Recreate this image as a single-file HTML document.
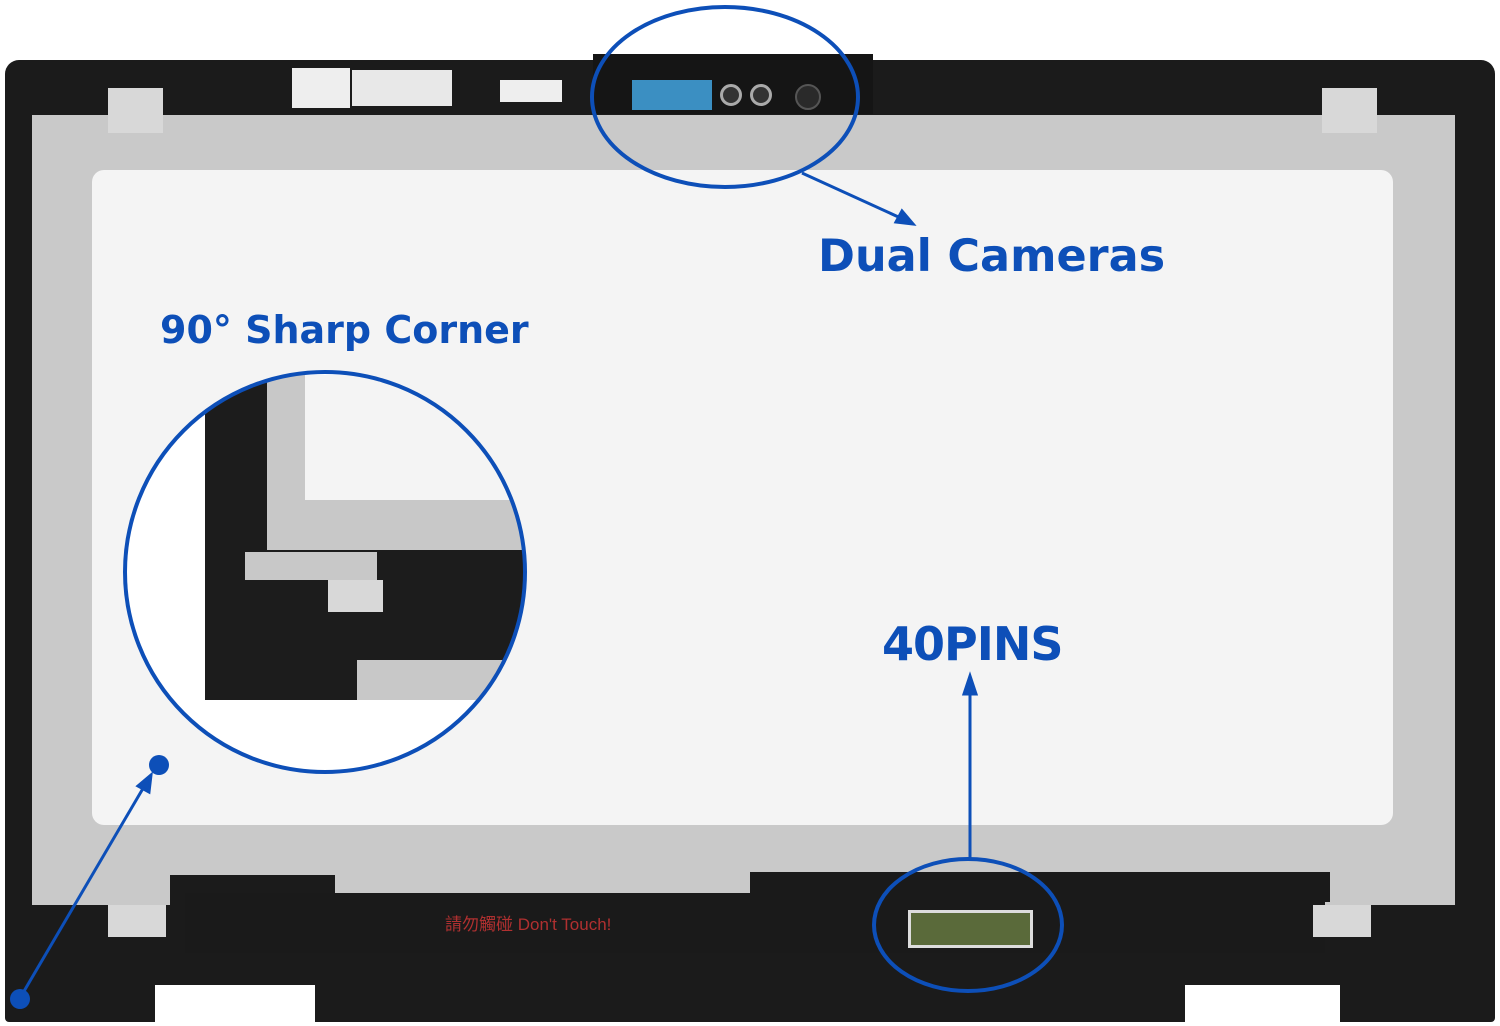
<!DOCTYPE html>
<html><head><meta charset="utf-8"><style>
*{margin:0;padding:0;box-sizing:border-box}
body{width:1500px;height:1026px;background:#fff;position:relative;overflow:hidden;font-family:"Liberation Sans","DejaVu Sans",sans-serif}
.a{position:absolute}
.lbl{position:absolute;color:#0d4fb8;font-weight:bold;font-family:"DejaVu Sans","Liberation Sans",sans-serif;white-space:nowrap}
</style></head><body>
<div class="a" style="left:5px;top:60px;width:1490px;height:962px;background:#1b1b1b;border-radius:14px 14px 4px 4px"></div>
<div class="a" style="left:593px;top:54px;width:280px;height:60px;background:#151515"></div>
<div class="a" style="left:155px;top:985px;width:160px;height:41px;background:#fff"></div>
<div class="a" style="left:1185px;top:985px;width:155px;height:41px;background:#fff"></div>
<div class="a" style="left:32px;top:115px;width:1423px;height:790px;background:#c9c9c9"></div>
<div class="a" style="left:170px;top:875px;width:165px;height:40px;background:#1b1b1b"></div>
<div class="a" style="left:185px;top:893px;width:1140px;height:60px;background:#1a1a1a"></div>
<div class="a" style="left:750px;top:872px;width:580px;height:30px;background:#1a1a1a"></div>
<div class="a" style="left:92px;top:170px;width:1301px;height:655px;background:#f4f4f4;border-radius:12px"></div>
<div class="a" style="left:108px;top:88px;width:55px;height:45px;background:#d8d8d8"></div>
<div class="a" style="left:1322px;top:88px;width:55px;height:45px;background:#d8d8d8"></div>
<div class="a" style="left:108px;top:905px;width:58px;height:32px;background:#d8d8d8"></div>
<div class="a" style="left:1313px;top:905px;width:58px;height:32px;background:#d8d8d8"></div>
<div class="a" style="left:292px;top:68px;width:58px;height:40px;background:#eee"></div>
<div class="a" style="left:352px;top:70px;width:100px;height:36px;background:#e8e8e8"></div>
<div class="a" style="left:500px;top:80px;width:62px;height:22px;background:#eee"></div>
<div class="a" style="left:632px;top:80px;width:80px;height:30px;background:#3b8fc2"></div>
<div class="a" style="left:720px;top:84px;width:22px;height:22px;border-radius:50%;background:#333;border:3px solid #aaa"></div>
<div class="a" style="left:750px;top:84px;width:22px;height:22px;border-radius:50%;background:#333;border:3px solid #aaa"></div>
<div class="a" style="left:795px;top:84px;width:26px;height:26px;border-radius:50%;background:#2a2a2a;border:2px solid #555"></div>
<div class="a" style="left:908px;top:910px;width:125px;height:38px;background:#5a6a3a;border:3px solid #ddd"></div>
<div class="a" style="left:445px;top:915px;width:260px;height:20px;color:#b03030;font-size:17px;line-height:20px">請勿觸碰 Don't Touch!</div>
<svg class="a" style="left:0;top:0" width="1500" height="1026">
<defs><clipPath id="c"><circle cx="325" cy="572" r="200"/></clipPath></defs>
<g clip-path="url(#c)">
<rect x="100" y="360" width="450" height="430" fill="#fff"/>
<rect x="205" y="375" width="320" height="325" fill="#c8c8c8"/>
<rect x="305" y="375" width="220" height="125" fill="#f4f4f4"/>
<rect x="205" y="375" width="62" height="325" fill="#1c1c1c"/>
<rect x="205" y="550" width="320" height="110" fill="#1c1c1c"/>
<rect x="205" y="655" width="152" height="45" fill="#1c1c1c"/>
<rect x="245" y="552" width="132" height="28" fill="#c8c8c8"/>
<rect x="328" y="580" width="55" height="32" fill="#d8d8d8"/>
</g>
<g fill="none" stroke="#0d4fb8" stroke-width="4">
<circle cx="325" cy="572" r="200"/>
<ellipse cx="725" cy="97" rx="133" ry="90"/>
<ellipse cx="968" cy="925" rx="94" ry="66"/>
</g>
<g stroke="#0d4fb8" stroke-width="3" fill="#0d4fb8">
<line x1="802" y1="173" x2="905" y2="220"/>
<polygon points="913,224 896,222 902,211"/>
<line x1="970" y1="858" x2="970" y2="690"/>
<polygon points="970,676 964,694 976,694"/>
<line x1="20" y1="998" x2="145" y2="785"/>
<polygon points="151,775 138,786 149,792"/>
</g>
<circle cx="20" cy="999" r="10" fill="#0d4fb8"/>
<circle cx="159" cy="765" r="10" fill="#0d4fb8"/>
</svg>
<div class="lbl" style="left:818px;top:231px;font-size:44.5px">Dual Cameras</div>
<div class="lbl" style="left:160px;top:308px;font-size:38px">90° Sharp Corner</div>
<div class="lbl" style="left:882px;top:617px;font-size:46px;letter-spacing:-1px">40PINS</div>
</body></html>
